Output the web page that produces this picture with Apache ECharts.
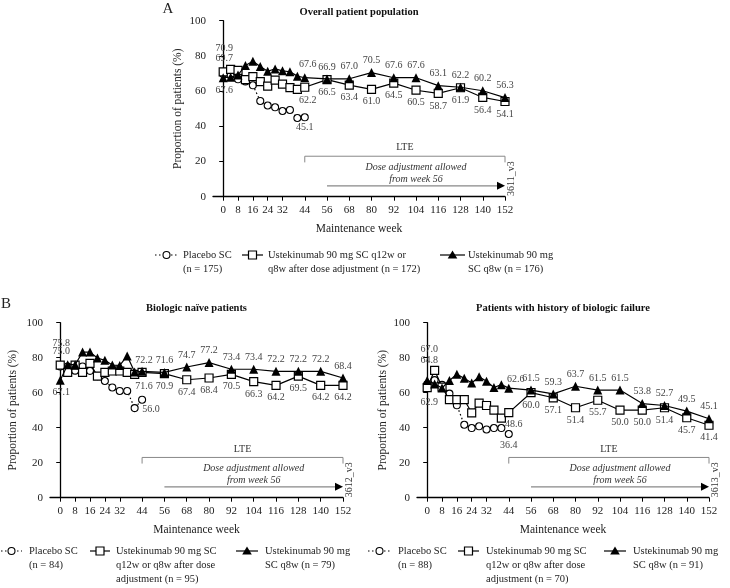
<!DOCTYPE html>
<html><head><meta charset="utf-8">
<script src="https://cdn.jsdelivr.net/npm/echarts@6/dist/echarts.min.js"></script>
<style>html,body{margin:0;padding:0;background:#fff}#c{width:730px;height:588px}</style>
</head><body><div id="c"></div><script>
// ---------- data ----------
const weeks = [0,4,8,12,16,20,24,28,32,36,40,44,56,68,80,92,104,116,128,140,152];
const placeboWeeks = [0,4,8,12,16,20,24,28,32,36,40,44];
const tickWeeks = [0,8,16,24,32,44,56,68,80,92,104,116,128,140,152];
const yTicks = [0,20,40,60,80,100];

// Panel A: overall population
const A_placebo = [69.7,68.8,66.7,65.5,63.3,54.4,51.8,50.8,48.7,49.3,44.7,45.1];
const A_q12 = [70.9,72.3,71.8,66.5,68.2,65.4,62.8,66.2,64.0,62.0,61.0,62.2,66.5,63.4,61.0,64.5,60.5,58.7,61.9,56.4,54.1];
const A_q8  = [67.6,67.9,69.2,74.5,77.0,74.0,71.3,72.6,71.5,71.0,68.5,67.6,66.9,67.0,70.5,67.6,67.6,63.1,62.2,60.2,56.3];
// Panel B left: biologic naive
const BL_placebo = [75.0,75.0,72.6,75.0,72.5,69.5,66.7,63.0,61.0,61.0,51.2,56.0];
const BL_q12 = [75.8,71.6,75.8,71.6,76.8,69.5,71.6,72.4,72.4,71.6,70.5,71.6,70.9,67.4,68.4,70.5,66.3,64.2,69.5,64.2,64.2];
const BL_q8  = [67.1,76.0,76.0,83.2,83.2,79.8,78.5,75.8,75.6,81.0,71.8,72.2,71.6,74.7,77.2,73.4,73.4,72.2,72.2,72.2,68.4];
// Panel B right: history of biologic failure
const BR_placebo = [64.8,67.2,64.5,59.5,52.8,41.7,39.8,40.8,39.0,39.8,39.8,36.4];
const BR_q12 = [62.9,72.8,63.2,56.0,56.0,56.0,48.5,54.1,52.7,50.1,45.5,48.6,60.0,57.1,51.4,55.7,50.0,50.0,51.4,45.7,41.4];
const BR_q8  = [67.0,65.0,62.7,67.0,70.5,68.2,65.5,69.1,66.5,63.0,64.6,62.6,61.5,59.3,63.7,61.5,61.5,53.8,52.7,49.5,45.1];

const titles = ['Overall patient population','Biologic naïve patients','Patients with history of biologic failure'];
const codes = ['3611_v3','3612_v3','3613_v3'];
const legendTexts = [
  [['Placebo SC','(n = 175)'],['Ustekinumab 90 mg SC q12w or','q8w after dose adjustment (n = 172)'],['Ustekinumab 90 mg','SC q8w (n = 176)']],
  [['Placebo SC','(n = 84)'],['Ustekinumab 90 mg SC','q12w or q8w after dose','adjustment (n = 95)'],['Ustekinumab 90 mg','SC q8w (n = 79)']],
  [['Placebo SC','(n = 88)'],['Ustekinumab 90 mg SC','q12w or q8w after dose','adjustment (n = 70)'],['Ustekinumab 90 mg','SC q8w (n = 91)']]
];

// ---------- layout / style ----------
const FONT = '"Liberation Serif","Times New Roman",serif';
const grids = [
  {left:213, top:20.7, width:292, height:176},
  {left:50, top:322.7, width:293, height:175},
  {left:417, top:322.7, width:292, height:175}
];
const yNameGaps = [29, 31, 28];
// label offsets [dx,dy] (label centre relative to point)
const offs = [
  {p:{0:[1,-16],11:[0,10]}, s:{0:[1,-24],11:[3,13]}, t:{0:[1,13],11:[3,-13]}},
  {p:{0:[1,-15],11:[9,10]}, s:{0:[1,-22],11:[2,13.5]}, t:{0:[1,12.5],11:[2,-11]}},
  {p:{0:[2,-24],11:[0,11]}, s:{0:[2,14.5],11:[5,11.5]}, t:{0:[2,-31],11:[7,-9]}}
];
const seriesData = [[A_placebo,A_q12,A_q8],[BL_placebo,BL_q12,BL_q8],[BR_placebo,BR_q12,BR_q8]];

function mkData(ws, vs, o, def) {
  return vs.map((v,i) => {
    const item = {value:[ws[i], v]};
    let off = o[i];
    if (off === undefined && i >= 12 && def) off = def;
    if (off) item.label = {show:true, offset:off};
    return item;
  });
}

const xAxes = [], yAxes = [], series = [];
grids.forEach((g,i) => {
  xAxes.push({
    type:'value', gridIndex:i, min:-5.5, max:152,
    name:'Maintenance week', nameLocation:'middle', nameGap:26,
    nameTextStyle:{fontFamily:FONT, fontSize:11.5, color:'#222'},
    axisLine:{show:true, onZero:false, lineStyle:{color:'#000', width:1.3}},
    axisTick:{show:true, inside:false, length:4, customValues:tickWeeks, lineStyle:{color:'#000', width:1}},
    axisLabel:{customValues:tickWeeks, margin:8, fontFamily:FONT, fontSize:11, color:'#222'},
    splitLine:{show:false}
  });
  yAxes.push({
    type:'value', gridIndex:i, min:0, max:100, interval:20,
    name:'Proportion of patients (%)', nameLocation:'middle', nameGap:yNameGaps[i],
    nameTextStyle:{fontFamily:FONT, fontSize:11.5, color:'#222'},
    axisLine:{show:true, lineStyle:{color:'#000', width:1.3}},
    axisTick:{show:true, inside:false, length:4, lineStyle:{color:'#000', width:1}},
    axisLabel:{margin:7, fontFamily:FONT, fontSize:11, color:'#222'},
    splitLine:{show:false}
  });
  const [pv, sv, tv] = seriesData[i];
  const lbl = {show:false, position:'inside', fontFamily:FONT, fontSize:10, color:'#444',
               formatter:p => p.value[1].toFixed(1)};
  series.push({
    type:'line', xAxisIndex:i, yAxisIndex:i, name:legendTexts[i][0].join(' '),
    data:mkData(placeboWeeks, pv, offs[i].p, null), z:2,
    symbol:'circle', symbolSize:7,
    itemStyle:{color:'#fff', borderColor:'#000', borderWidth:1.1},
    lineStyle:{color:'#000', width:1.2, type:[1.5,2.5]},
    label:lbl, emphasis:{disabled:true}
  });
  series.push({
    type:'line', xAxisIndex:i, yAxisIndex:i, name:legendTexts[i][1].join(' '),
    data:mkData(weeks, sv, offs[i].s, [0,12.5]), z:3,
    symbol:'rect', symbolSize:8,
    itemStyle:{color:'#fff', borderColor:'#000', borderWidth:1.2},
    lineStyle:{color:'#000', width:1.2},
    label:lbl, emphasis:{disabled:true}
  });
  series.push({
    type:'line', xAxisIndex:i, yAxisIndex:i, name:legendTexts[i][2].join(' '),
    data:mkData(weeks, tv, offs[i].t, [0,-12]), z:4,
    symbol:'triangle', symbolSize:9,
    itemStyle:{color:'#000', borderColor:'#000', borderWidth:0},
    lineStyle:{color:'#000', width:1.2},
    label:lbl, emphasis:{disabled:true}
  });
});

const chart = echarts.init(document.getElementById('c'), null, {renderer:'canvas', width:730, height:588});
chart.setOption({
  animation:false,
  backgroundColor:'#fff',
  grid:grids.map(g => Object.assign({containLabel:false, outerBoundsMode:'none'}, g)),
  xAxis:xAxes, yAxis:yAxes, series:series,
  tooltip:{show:false}
});

// ---------- annotations ----------
function txt(t, x, y, opts) {
  return Object.assign({type:'text', silent:true, style:Object.assign({
    text:t, x:x, y:y, font:'10.5px '+FONT, fill:'#222',
    textAlign:'left', align:'left', textVerticalAlign:'middle', verticalAlign:'middle'
  }, opts || {})});
}
const G = [];
G.push(txt('A', 168, 9, {font:'15px '+FONT, textAlign:'center', align:'center'}));
G.push(txt('B', 6, 304, {font:'15px '+FONT, textAlign:'center', align:'center'}));
const titleY = [12, 308, 308];
grids.forEach((g,i) => {
  G.push(txt(titles[i], g.left + g.width/2, titleY[i], {font:'bold 10.5px '+FONT, textAlign:'center', align:'center', fill:'#111'}));
});

grids.forEach((g,i) => {
  const P = (w,v) => chart.convertToPixel({gridIndex:i}, [w,v]);
  const a = P(44,19.5), b = P(44,23), c = P(152,23), d = P(152,19.5);
  G.push({type:'polyline', silent:true, shape:{points:[a,b,c,d]}, style:{stroke:'#888', lineWidth:1, fill:null}});
  const l = P(98,27.8);
  G.push(txt('LTE', l[0], l[1], {font:'10px '+FONT, textAlign:'center', align:'center', fill:'#333'}));
  const d1 = P(104,16.9), d2 = P(104,10.1);
  G.push(txt('Dose adjustment allowed', d1[0], d1[1], {font:'italic 10px '+FONT, textAlign:'center', align:'center', fill:'#333'}));
  G.push(txt('from week 56', d2[0], d2[1], {font:'italic 10px '+FONT, textAlign:'center', align:'center', fill:'#333'}));
  const s = P(56,6.2), e = P(152,6.2);
  G.push({type:'line', silent:true, shape:{x1:s[0], y1:s[1], x2:e[0]-6, y2:e[1]}, style:{stroke:'#888', lineWidth:1.3}});
  G.push({type:'polygon', silent:true, shape:{points:[[e[0],e[1]],[e[0]-8,e[1]-4],[e[0]-8,e[1]+4]]}, style:{fill:'#000'}});
  const cy = P(0,10.3)[1];
  G.push({type:'text', silent:true, x:e[0]+6, y:cy, rotation:Math.PI/2,
    style:{text:codes[i], x:0, y:0, font:'10px '+FONT, fill:'#333', textAlign:'center', align:'center', textVerticalAlign:'middle', verticalAlign:'middle'}});
});

// ---------- legends ----------
function legendItem(kind, x0, x1, y, tx, lines, lh) {
  const cx = (x0 + x1) / 2;
  G.push({type:'line', silent:true, shape:{x1:x0, y1:y, x2:x1, y2:y},
    style:{stroke:'#000', lineWidth:1.2, lineDash: kind === 'c' ? [1.5,2.5] : null}});
  if (kind === 'c') G.push({type:'circle', silent:true, shape:{cx:cx, cy:y, r:3.5}, style:{fill:'#fff', stroke:'#000', lineWidth:1.1}});
  if (kind === 's') G.push({type:'rect', silent:true, shape:{x:cx-4, y:y-4, width:8, height:8}, style:{fill:'#fff', stroke:'#000', lineWidth:1.2}});
  if (kind === 't') G.push({type:'polygon', silent:true, shape:{points:[[cx,y-4.5],[cx+4.8,y+3.5],[cx-4.8,y+3.5]]}, style:{fill:'#000'}});
  lines.forEach((t,k) => G.push(txt(t, tx, y + k*lh)));
}
const LA = 14.5;
legendItem('c', 155, 178, 255, 183, legendTexts[0][0], LA);
legendItem('s', 242, 263, 255, 268, legendTexts[0][1], LA);
legendItem('t', 440, 465, 255, 468, legendTexts[0][2], LA);
const yB = 551, LB = 14;
legendItem('c', 1, 22, yB, 29, legendTexts[1][0], LB);
legendItem('s', 90, 110, yB, 116, legendTexts[1][1], LB);
legendItem('t', 236, 258, yB, 265, legendTexts[1][2], LB);
legendItem('c', 368, 391, yB, 398, legendTexts[2][0], LB);
legendItem('s', 458, 479, yB, 486, legendTexts[2][1], LB);
legendItem('t', 604, 626, yB, 633, legendTexts[2][2], LB);

chart.setOption({graphic:{elements:G}});
</script></body></html>
